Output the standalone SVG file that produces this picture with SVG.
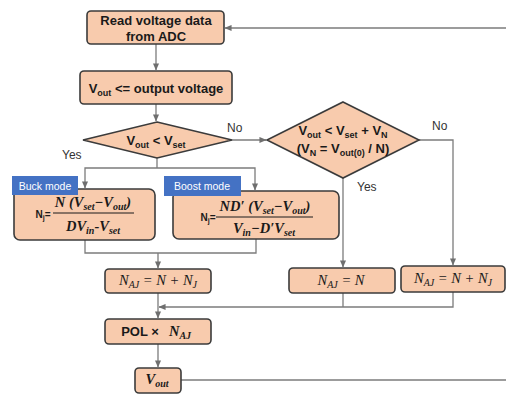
<svg xmlns="http://www.w3.org/2000/svg" width="506" height="399" viewBox="0 0 506 399">
<defs>
<marker id="arr" viewBox="0 0 8 8" refX="7.5" refY="4" markerWidth="7" markerHeight="7" orient="auto" markerUnits="userSpaceOnUse">
<path d="M0,0.5 L8,4 L0,7.5 Z" fill="#6f6f6f"/>
</marker>
<style>
.box{fill:#F8CBAD;stroke:#3b3b3b;stroke-width:1.6}
.con{fill:none;stroke:#7c7c7c;stroke-width:1.3}
.t{font-family:"Liberation Sans",Arial,sans-serif;font-weight:bold;font-size:13px;fill:#1a1a1a;text-anchor:middle}
.m{font-family:"Liberation Serif","Times New Roman",serif;font-style:italic;font-size:14.5px;fill:#1a1a1a;text-anchor:middle}
.mb{font-family:"Liberation Serif","Times New Roman",serif;font-style:italic;font-weight:bold;font-size:14.5px;fill:#1a1a1a;text-anchor:middle}
.lbl{font-family:"Liberation Sans",Arial,sans-serif;font-size:12px;fill:#333}
.tag{fill:#4472C4}
.tagt{font-family:"Liberation Sans",Arial,sans-serif;font-size:10.5px;fill:#ffffff;text-anchor:middle}
</style>
</defs>
<rect width="506" height="399" fill="#ffffff"/>

<g id="connectors">
<path class="con" d="M156,44 V70" marker-end="url(#arr)"/>
<path class="con" d="M156,104 V121" marker-end="url(#arr)"/>
<path class="con" d="M157,158 V168"/>
<path class="con" d="M157,168 H85 V188" marker-end="url(#arr)"/>
<path class="con" d="M157,168 H255 V190" marker-end="url(#arr)"/>
<path class="con" d="M232,140 H266" marker-end="url(#arr)"/>
<path class="con" d="M419,140 H453 V265" marker-end="url(#arr)"/>
<path class="con" d="M343,178 V267" marker-end="url(#arr)"/>
<path class="con" d="M85,240 V253 H256 V239"/>
<path class="con" d="M158,253 V268" marker-end="url(#arr)"/>
<path class="con" d="M158,293 V318" marker-end="url(#arr)"/>
<path class="con" d="M343,293 V307"/>
<path class="con" d="M453,292 V307 H159" marker-end="url(#arr)"/>
<path class="con" d="M158,344 V367" marker-end="url(#arr)"/>
<path class="con" d="M181,380 H512 V28 H225" marker-end="url(#arr)"/>
<text class="lbl" x="62" y="159">Yes</text>
<text class="lbl" x="227" y="132">No</text>
<text class="lbl" x="432" y="130">No</text>
<text class="lbl" x="357" y="191">Yes</text>
</g>

<g id="read">
<rect class="box" x="87" y="11" width="137" height="33" rx="4"/>
<text class="t" x="156" y="25">Read voltage data</text>
<text class="t" x="156" y="41">from ADC</text>
</g>

<g id="vout-assign">
<rect class="box" x="80" y="71" width="152" height="33" rx="4"/>
<text class="t" x="156" y="93">V<tspan font-size="9" dy="3">out</tspan><tspan dy="-3"> &lt;= output voltage</tspan></text>
</g>

<g id="dec1">
<polygon class="box" points="157,122 232,140 157,158 83,140"/>
<text class="t" x="156" y="145">V<tspan font-size="9" dy="3">out</tspan><tspan dy="-3">  &lt; V</tspan><tspan font-size="9" dy="3">set</tspan></text>
</g>

<g id="dec2">
<polygon class="box" points="343,102 419,140 343,178 267,140"/>
<text class="t" x="343" y="135">V<tspan font-size="9" dy="3">out</tspan><tspan dy="-3"> &lt; V</tspan><tspan font-size="9" dy="3">set</tspan><tspan dy="-3"> + V</tspan><tspan font-size="9" dy="3">N</tspan></text>
<text class="t" x="343" y="153">(V<tspan font-size="9" dy="3">N</tspan><tspan dy="-3"> = V</tspan><tspan font-size="9" dy="3">out(0)</tspan><tspan dy="-3"> / N)</tspan></text>
</g>

<g id="buck">
<rect class="box" x="14" y="189" width="141" height="51" rx="6"/>
<rect class="tag" x="12" y="176" width="66" height="19"/>
<text class="tagt" x="45" y="190">Buck mode</text>
<text class="t" x="43" y="218" style="font-size:10px">N<tspan font-size="7" dy="2">j</tspan><tspan dy="-2">=</tspan></text>
<text class="mb" x="93" y="207">N (V<tspan font-size="10" dy="3">set</tspan><tspan dy="-3">−V</tspan><tspan font-size="10" dy="3">out</tspan><tspan dy="-3">)</tspan></text>
<line x1="53" y1="213" x2="134" y2="213" stroke="#1a1a1a" stroke-width="1"/>
<text class="mb" x="93" y="231">DV<tspan font-size="10" dy="3">in</tspan><tspan dy="-3">-V</tspan><tspan font-size="10" dy="3">set</tspan></text>
</g>

<g id="boost">
<rect class="box" x="173" y="191" width="166" height="48" rx="6"/>
<rect class="tag" x="164" y="176" width="77" height="20"/>
<text class="tagt" x="202" y="190">Boost mode</text>
<text class="t" x="208" y="221" style="font-size:10px">N<tspan font-size="7" dy="2">j</tspan><tspan dy="-2">=</tspan></text>
<text class="mb" x="265" y="211">ND′ (V<tspan font-size="10" dy="3">set</tspan><tspan dy="-3">−V</tspan><tspan font-size="10" dy="3">out</tspan><tspan dy="-3">)</tspan></text>
<line x1="216" y1="217" x2="313" y2="217" stroke="#1a1a1a" stroke-width="1"/>
<text class="mb" x="264" y="233">V<tspan font-size="10" dy="3">in</tspan><tspan dy="-3">−D′V</tspan><tspan font-size="10" dy="3">set</tspan></text>
</g>

<g id="naj1">
<rect class="box" x="105" y="269" width="106" height="24" rx="4"/>
<text class="m" x="158" y="285">N<tspan font-size="10" dy="3">AJ</tspan><tspan dy="-3"> = N + N</tspan><tspan font-size="10" dy="3">J</tspan></text>
</g>

<g id="naj2">
<rect class="box" x="289" y="268" width="106" height="25" rx="4"/>
<text class="m" x="341" y="285">N<tspan font-size="10" dy="3">AJ</tspan><tspan dy="-3"> = N</tspan></text>
</g>

<g id="naj3">
<rect class="box" x="401" y="266" width="104" height="26" rx="4"/>
<text class="m" x="453" y="283">N<tspan font-size="10" dy="3">AJ</tspan><tspan dy="-3"> = N + N</tspan><tspan font-size="10" dy="3">J</tspan></text>
</g>

<g id="pol">
<rect class="box" x="105" y="319" width="106" height="25" rx="4"/>
<text class="t" x="140" y="336">POL ×</text>
<text class="mb" x="180" y="336">N<tspan font-size="10" dy="3">AJ</tspan></text>
</g>

<g id="vout">
<rect class="box" x="135" y="368" width="46" height="25" rx="4"/>
<text class="mb" x="157" y="384">V<tspan font-size="10" dy="3">out</tspan></text>
</g>
</svg>
